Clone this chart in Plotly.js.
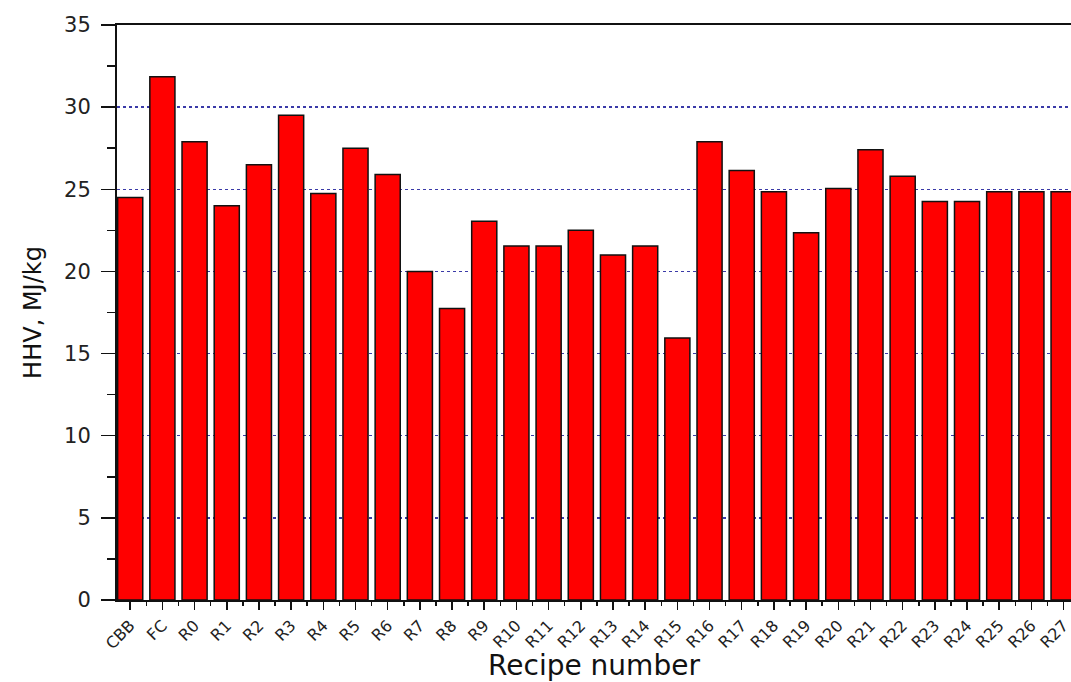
<!DOCTYPE html>
<html>
<head>
<meta charset="utf-8">
<script src="https://cdn.plot.ly/plotly-3.0.1.min.js"></script>
<style>
  html, body { margin: 0; padding: 0; background: #ffffff; }
  #chart { width: 1071px; height: 682px; }
</style>
</head>
<body>
<div id="chart"></div>
<script>
// Categories (recipe numbers)
const categories = ['CBB', 'FC', 'R0', 'R1', 'R2', 'R3', 'R4', 'R5', 'R6', 'R7',
  'R8', 'R9', 'R10', 'R11', 'R12', 'R13', 'R14', 'R15', 'R16', 'R17',
  'R18', 'R19', 'R20', 'R21', 'R22', 'R23', 'R24', 'R25', 'R26', 'R27'];

// Higher heating value, MJ/kg
const hhv = [24.5, 31.85, 27.9, 24.0, 26.5, 29.5, 24.75, 27.5, 25.9, 20.0,
  17.75, 23.05, 21.55, 21.55, 22.5, 21.0, 21.55, 15.95, 27.9, 26.15,
  24.85, 22.35, 25.05, 27.4, 25.8, 24.25, 24.25, 24.85, 24.85, 24.85];

// Axis tick values
const yTickVals = [0, 5, 10, 15, 20, 25, 30, 35];

const xTitle = 'Recipe number';
const yTitle = 'HHV, MJ/kg';

const ff = 'DejaVu Sans, Liberation Sans, Arial, sans-serif';
const xRange = [-0.41, 29.23];

const traces = [
  {
    type: 'bar',
    x: categories,
    y: hhv,
    marker: { color: '#ff0000', line: { color: '#111111', width: 1.5 } }
  },
  {
    type: 'scatter',
    x: [],
    y: [],
    xaxis: 'x2',
    yaxis: 'y',
    showlegend: false,
    hoverinfo: 'skip'
  }
];

const layout = {
  width: 1071,
  height: 682,
  margin: { l: 117, r: 0, t: 25, b: 82 },
  paper_bgcolor: '#ffffff',
  plot_bgcolor: '#ffffff',
  showlegend: false,
  bargap: 0.22,
  xaxis: {
    type: 'category',
    range: xRange,
    tickangle: -45,
    tickfont: { size: 16, color: '#222222', family: ff },
    showline: true,
    linecolor: '#111111',
    linewidth: 2,
    mirror: true,
    ticks: 'outside',
    ticklen: 8,
    tickwidth: 1.5,
    tickcolor: '#111111',
    showgrid: false,
    zeroline: false,
    title: { text: xTitle, font: { size: 28, color: '#111111', family: ff }, standoff: 2 }
  },
  xaxis2: {
    type: 'linear',
    overlaying: 'x',
    anchor: 'y',
    side: 'bottom',
    range: xRange,
    tickmode: 'linear',
    tick0: 0.5,
    dtick: 1,
    ticks: 'outside',
    ticklen: 5,
    tickwidth: 1.5,
    tickcolor: '#111111',
    showticklabels: false,
    showgrid: false,
    showline: false,
    zeroline: false
  },
  yaxis: {
    range: [0, 35],
    tickmode: 'array',
    tickvals: yTickVals,
    tickfont: { size: 21, color: '#222222', family: ff },
    ticklabelstandoff: 6,
    showline: true,
    linecolor: '#111111',
    linewidth: 2,
    ticks: 'outside',
    ticklen: 14,
    tickwidth: 1.5,
    tickcolor: '#111111',
    minor: { dtick: 2.5, tick0: 0, ticks: 'outside', ticklen: 8, tickwidth: 1.5, tickcolor: '#111111', showgrid: false },
    showgrid: true,
    gridcolor: '#3a3aa8',
    gridwidth: 1.5,
    griddash: 'dot',
    zeroline: false,
    title: { text: yTitle, font: { size: 24, color: '#111111', family: ff }, standoff: 16 }
  }
};

Plotly.newPlot('chart', traces, layout, { displayModeBar: false, staticPlot: true });
</script>
</body>
</html>
